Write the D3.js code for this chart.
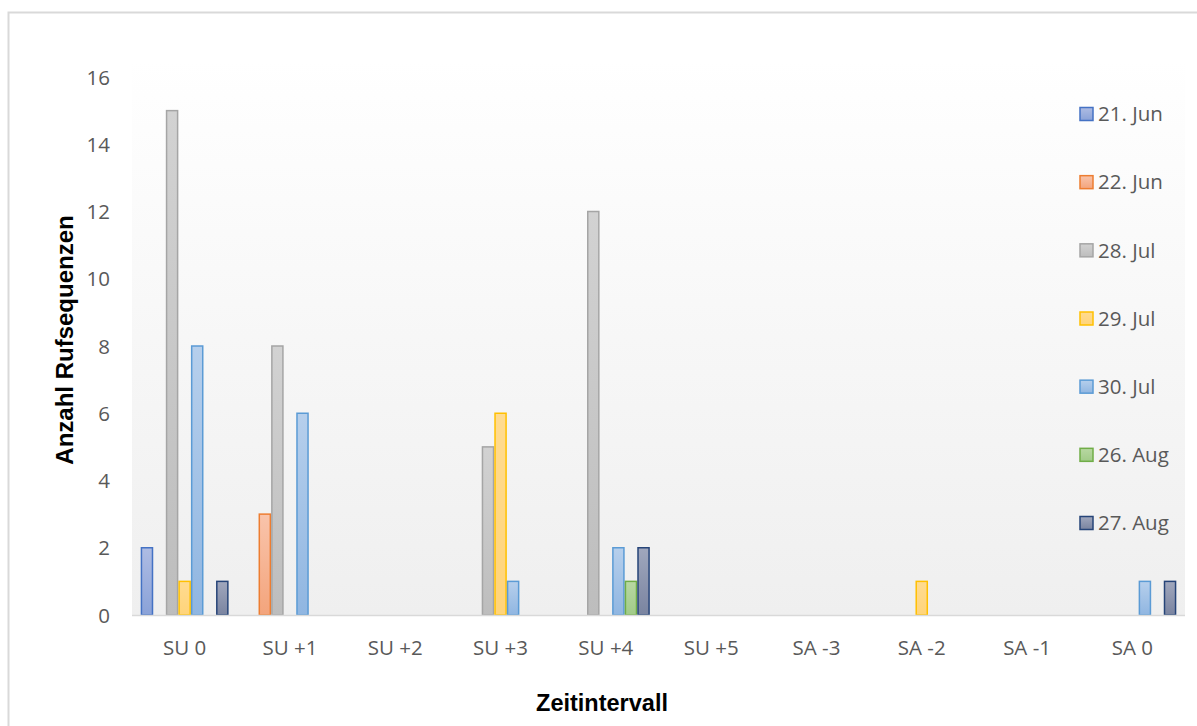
<!DOCTYPE html>
<html>
<head>
<meta charset="utf-8">
<script src="https://cdn.jsdelivr.net/npm/d3@7"></script>
<style>
  html, body { margin: 0; padding: 0; background: #fff; }
  svg { display: block; }
</style>
</head>
<body>
<svg id="chart" width="1197" height="726"></svg>
<script>
const categories = ["SU 0", "SU +1", "SU +2", "SU +3", "SU +4", "SU +5", "SA -3", "SA -2", "SA -1", "SA 0"];
const seriesNames = ["21. Jun", "22. Jun", "28. Jul", "29. Jul", "30. Jul", "26. Aug", "27. Aug"];
const jun21 = [2, 0, 0, 0, 0, 0, 0, 0, 0, 0];
const jun22 = [0, 3, 0, 0, 0, 0, 0, 0, 0, 0];
const jul28 = [15, 8, 0, 5, 12, 0, 0, 0, 0, 0];
const jul29 = [1, 0, 0, 6, 0, 0, 0, 1, 0, 0];
const jul30 = [8, 6, 0, 1, 2, 0, 0, 0, 0, 1];
const aug26 = [0, 0, 0, 0, 1, 0, 0, 0, 0, 0];
const aug27 = [1, 0, 0, 0, 2, 0, 0, 0, 0, 1];
const yTicks = [0, 2, 4, 6, 8, 10, 12, 14, 16];

const seriesValues = [jun21, jun22, jul28, jul29, jul30, aug26, aug27];
const strokeColors = ["#4472c4", "#ed7d31", "#a5a5a5", "#ffc000", "#5b9bd5", "#70ad47", "#264478"];
const fillTop = ["#aebce3", "#f9c4ab", "#d2d2d2", "#ffdb90", "#b6cfec", "#b8d8a2", "#a0a7bd"];
const fillBot = ["#8aa2d8", "#f3a47c", "#bdbdbd", "#ffd47a", "#90b6e1", "#a1cb88", "#7a84a0"];

(function () {
const svg = d3.select("#chart");
const defs = svg.append("defs");
const tickFont = "'Open Sans', sans-serif";
const tickSize = 20.5;

const bg = defs.append("linearGradient").attr("id", "bgGrad")
  .attr("x1", 0).attr("y1", 0).attr("x2", 0).attr("y2", 1);
bg.append("stop").attr("offset", "0%").attr("stop-color", "#ffffff");
bg.append("stop").attr("offset", "100%").attr("stop-color", "#efefef");

seriesNames.forEach((s, i) => {
  const g = defs.append("linearGradient").attr("id", "bar" + i)
    .attr("x1", 0).attr("y1", 0).attr("x2", 0).attr("y2", 1);
  g.append("stop").attr("offset", "0%").attr("stop-color", fillTop[i]);
  g.append("stop").attr("offset", "100%").attr("stop-color", fillBot[i]);
});

svg.append("rect").attr("x", 8.5).attr("y", 12.5).attr("width", 1200).attr("height", 730)
  .attr("fill", "#fff").attr("stroke", "#d9d9d9").attr("stroke-width", 2);

const pLeft = 132, pRight = 1185, pTop = 77, pBottom = 615;

svg.append("rect").attr("x", pLeft).attr("y", 60).attr("width", pRight - pLeft).attr("height", pBottom - 60)
  .attr("fill", "url(#bgGrad)");

const x = d3.scaleBand().domain(categories).range([pLeft, pRight]).paddingInner(0.165).paddingOuter(0.0825);
const xs = d3.scaleBand().domain(seriesNames).range([0, x.bandwidth()]).padding(0);
const y = d3.scaleLinear().domain([0, 16]).range([pBottom, pTop]);

const groups = svg.append("g").selectAll("g").data(seriesNames).join("g");
groups.each(function(s, si) {
  d3.select(this).selectAll("rect")
    .data(seriesValues[si].map((v, ci) => ({ v, c: categories[ci] })).filter(d => d.v > 0))
    .join("rect")
    .attr("x", d => x(d.c) + xs(s) + 0.75)
    .attr("y", d => y(d.v))
    .attr("width", xs.bandwidth() - 1.5)
    .attr("height", d => y(0) - y(d.v))
    .attr("fill", "url(#bar" + si + ")")
    .attr("stroke", strokeColors[si])
    .attr("stroke-width", 1.5);
});

svg.append("line").attr("x1", pLeft).attr("x2", pRight).attr("y1", pBottom + 0.5).attr("y2", pBottom + 0.5)
  .attr("stroke", "#d9d9d9").attr("stroke-width", 1.5);

const yAxis = d3.axisLeft(y).tickValues(yTicks).tickSize(0).tickPadding(0);
const yg = svg.append("g").attr("transform", "translate(110,0)").call(yAxis);
yg.select(".domain").remove();
yg.selectAll("text").attr("font-family", tickFont).attr("font-size", tickSize)
  .attr("fill", "#595959").attr("dy", "0.35em");

const xAxis = d3.axisBottom(x).tickSize(0).tickPadding(0);
const xg = svg.append("g").attr("transform", "translate(0,640)").call(xAxis);
xg.select(".domain").remove();
xg.selectAll("text").attr("font-family", tickFont).attr("font-size", tickSize)
  .attr("fill", "#595959").attr("dy", "0.71em");

svg.append("text").attr("transform", "translate(73,340) rotate(-90)")
  .attr("text-anchor", "middle").attr("font-family", "'Liberation Sans', Arial, sans-serif")
  .attr("font-weight", "bold").attr("font-size", 24).attr("fill", "#000").text("Anzahl Rufsequenzen");
svg.append("text").attr("x", 602).attr("y", 711)
  .attr("text-anchor", "middle").attr("font-family", "'Liberation Sans', Arial, sans-serif")
  .attr("font-weight", "bold").attr("font-size", 23.5).attr("fill", "#000").text("Zeitintervall");

const ly = d3.scalePoint().domain(seriesNames).range([114, 523]);
const leg = svg.append("g").selectAll("g").data(seriesNames).join("g")
  .attr("transform", d => `translate(1080,${ly(d)})`);
leg.append("rect").attr("x", 0).attr("y", -6.5).attr("width", 13).attr("height", 13)
  .attr("fill", (d, i) => `url(#bar${i})`).attr("stroke", (d, i) => strokeColors[i]).attr("stroke-width", 1.5);
leg.append("text").attr("x", 18).attr("dy", "0.35em")
  .attr("font-family", tickFont).attr("font-size", tickSize).attr("fill", "#595959")
  .text(d => d);
})();
</script>
</body>
</html>
